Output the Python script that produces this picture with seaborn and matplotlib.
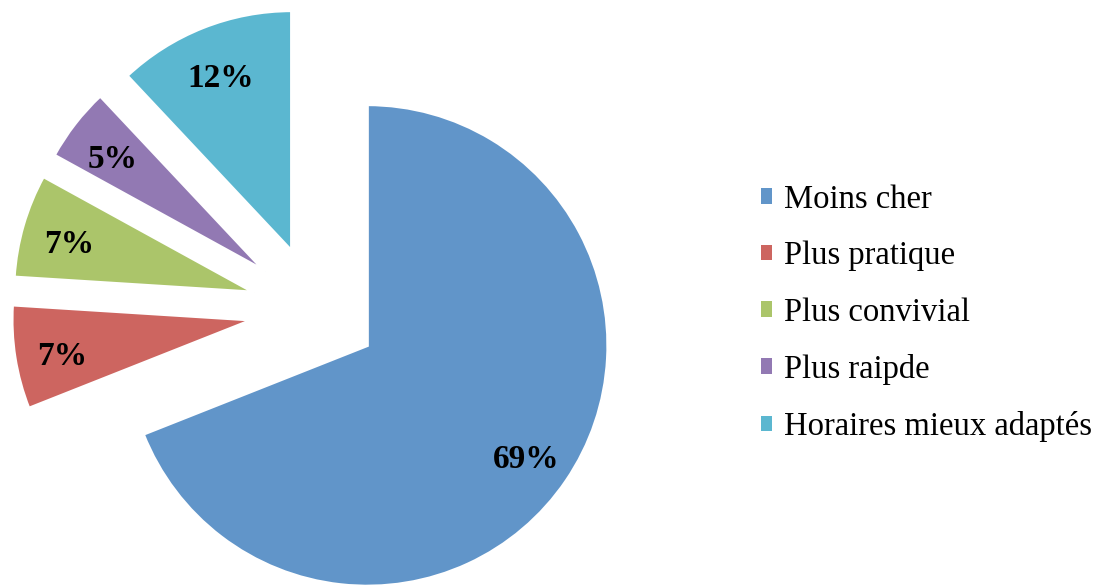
import matplotlib
matplotlib.use("Agg")
import matplotlib.pyplot as plt
import seaborn as sns

# Data
categories = ["Moins cher", "Plus pratique", "Plus convivial",
              "Plus raipde", "Horaires mieux adaptés"]
values = [69, 7, 7, 5, 12]
colors = ["#6195C9", "#CD6560", "#ABC56A", "#9279B3", "#5BB7D0"]

sns.set_theme(style="white")
plt.rcParams["font.family"] = ["Liberation Serif", "DejaVu Serif"]
plt.rcParams["text.color"] = "black"

W, H = 1095, 587
fig = plt.figure(figsize=(W / 100, H / 100), dpi=100)
ax = fig.add_axes([0, 0, 1, 1])

# pie centre and radius in pixel units (y upwards)
center = (315, H - 310)
radius = 241

# explode is in data units here, so ~63 px for every slice
wedges, texts, autotexts = ax.pie(
    values,
    colors=colors,
    explode=[63] * len(values),
    startangle=90,
    counterclock=False,
    center=center,
    radius=radius,
    autopct="%d%%",
    pctdistance=0.8,
    wedgeprops=dict(edgecolor="white", linewidth=2.5),
    textprops=dict(fontsize=24, fontweight="bold", color="black"),
)

# labels sit a little lower in the original
for t in autotexts:
    x, y = t.get_position()
    t.set_position((x, y - 6))

ax.set_xlim(0, W)
ax.set_ylim(0, H)
ax.set_aspect("equal")
ax.axis("off")

leg = ax.legend(
    wedges, categories,
    loc="center left",
    bbox_to_anchor=(761 / W, (H - 313) / H),
    bbox_transform=fig.transFigure,
    frameon=False,
    fontsize=23.5,
    handlelength=0.35,
    handleheight=0.35,
    handletextpad=0.35,
    labelspacing=0.8,
    borderpad=0,
    borderaxespad=0,
)
for h in leg.legend_handles:
    h.set_linewidth(0)

fig.savefig("out.png", dpi=100)
plt.close(fig)
